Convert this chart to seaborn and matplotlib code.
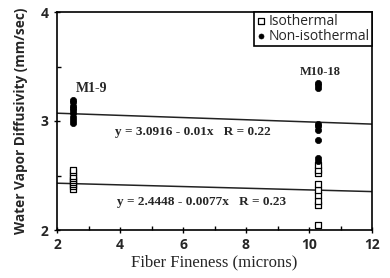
import matplotlib
matplotlib.use("Agg")
import matplotlib.pyplot as plt
import seaborn as sns
import numpy as np
import pandas as pd
from matplotlib.ticker import MultipleLocator

# ---- data ----
x_groups = [2.5, 10.3]
iso_m1_9 = [2.38, 2.40, 2.42, 2.44, 2.46, 2.48, 2.50, 2.53, 2.55]
noniso_m1_9 = [2.98, 3.01, 3.04, 3.07, 3.10, 3.12, 3.14, 3.17, 3.19]
iso_m10_18 = [2.05, 2.23, 2.27, 2.32, 2.37, 2.42, 2.52, 2.55, 2.60]
noniso_m10_18 = [2.63, 2.66, 2.83, 2.92, 2.95, 2.97, 3.30, 3.33, 3.35]
fit_noniso = (3.0916, -0.01)
fit_iso = (2.4448, -0.0077)
eq_labels = ["y = 3.0916 - 0.01x   R = 0.22", "y = 2.4448 - 0.0077x   R = 0.23"]
group_labels = ["M1-9", "M10-18"]
series_names = ["Isothermal", "Non-isothermal"]
x_ticks = [2, 4, 6, 8, 10, 12]
y_ticks = [2, 3, 4]

iso_df = pd.DataFrame({
    "x": [x_groups[0]] * len(iso_m1_9) + [x_groups[1]] * len(iso_m10_18),
    "y": iso_m1_9 + iso_m10_18,
})
non_df = pd.DataFrame({
    "x": [x_groups[0]] * len(noniso_m1_9) + [x_groups[1]] * len(noniso_m10_18),
    "y": noniso_m1_9 + noniso_m10_18,
})

sns.set_style("ticks")
plt.rcParams["font.family"] = ["Open Sans", "DejaVu Sans"]

fig = plt.figure(figsize=(3.9, 2.78), dpi=100)
ax = fig.add_axes([57 / 390, 1 - 230 / 278, (372 - 57) / 390, (230 - 12) / 278])

# regression lines
xl = np.array([2, 12])
ax.plot(xl, fit_noniso[0] + fit_noniso[1] * xl, color="#222222", lw=1.1, zorder=1)
ax.plot(xl, fit_iso[0] + fit_iso[1] * xl, color="#222222", lw=1.1, zorder=1)

sns.scatterplot(data=iso_df, x="x", y="y", marker="s", s=24, facecolor="white",
                edgecolor="black", linewidth=0.9, ax=ax, label=series_names[0], zorder=3)
sns.scatterplot(data=non_df, x="x", y="y", marker="o", s=20, color="black",
                edgecolor="black", linewidth=0.5, ax=ax, label=series_names[1], zorder=3)

ax.set_xlim(2, 12)
ax.set_ylim(2, 4)
ax.set_xticks(x_ticks)
ax.set_yticks(y_ticks)
ax.xaxis.set_minor_locator(MultipleLocator(1))
ax.yaxis.set_minor_locator(MultipleLocator(0.5))
ax.tick_params(which="major", direction="inout", length=5, width=1, color="black",
               labelsize=10)
ax.tick_params(which="minor", direction="in", length=3, width=1, color="black")
for lab in ax.get_xticklabels() + ax.get_yticklabels():
    lab.set_fontweight("bold")
ax.tick_params(axis="x", pad=3)
for sp in ax.spines.values():
    sp.set_visible(True)
    sp.set_linewidth(1.2)
    sp.set_color("black")

ax.set_xlabel("Fiber Fineness (microns)", family="Liberation Serif", fontsize=12, labelpad=2)
ax.set_ylabel("Water Vapor Diffusivity (mm/sec)", fontsize=9.8, fontweight="bold", labelpad=9)

ax.text(3.1, 3.30, group_labels[0], family="Liberation Serif",
        fontsize=10, fontweight="bold", ha="center", va="center")
ax.text(10.35, 3.45, group_labels[1], family="Liberation Serif",
        fontsize=9, fontweight="bold", ha="center", va="center")
ax.text(3.85, 2.90, eq_labels[0], family="Liberation Serif", fontsize=9.5,
        fontweight="bold", ha="left", va="center")
ax.text(3.9, 2.26, eq_labels[1], family="Liberation Serif", fontsize=9.5,
        fontweight="bold", ha="left", va="center")

leg = ax.legend(loc="upper right", bbox_to_anchor=(1.0, 1.0), borderaxespad=0,
                frameon=True, fancybox=False, fontsize=10, handletextpad=0.15,
                handlelength=0.8, borderpad=0.15, labelspacing=0.0, markerscale=0.8)
leg.get_frame().set_edgecolor("black")
leg.get_frame().set_linewidth(1.2)
leg.get_frame().set_alpha(1)

fig.savefig("out.png", dpi=100)
